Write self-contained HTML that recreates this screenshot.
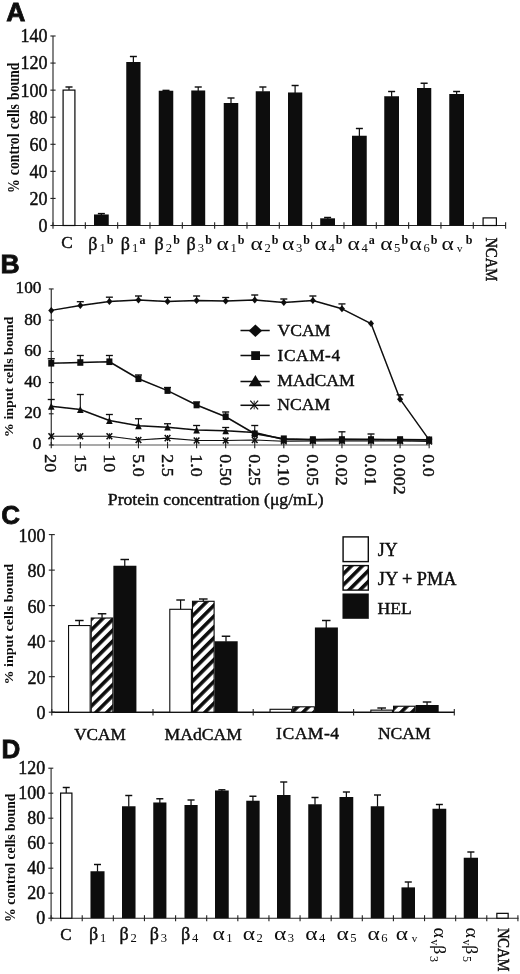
<!DOCTYPE html>
<html lang="en"><head><meta charset="utf-8"><title>Figure</title>
<style>html,body{margin:0;padding:0;background:#fff;}body{width:520px;height:974px;overflow:hidden;font-family:"Liberation Serif",serif;}svg{display:block;}</style>
</head><body>
<svg width="520" height="974" viewBox="0 0 520 974">
<rect x="0" y="0" width="520" height="974" fill="#ffffff"/>
<filter id="soft" x="0" y="0" width="520" height="974" filterUnits="userSpaceOnUse"><feGaussianBlur stdDeviation="0.35"/></filter>
<g filter="url(#soft)">
<text x="6.20" y="21.00" font-size="26.5" text-anchor="start" font-weight="bold" font-family="Liberation Sans, sans-serif" fill="#0a0a0a" stroke="#0a0a0a" stroke-width="0.8" >A</text>
<text x="0.40" y="273.00" font-size="26.5" text-anchor="start" font-weight="bold" font-family="Liberation Sans, sans-serif" fill="#0a0a0a" stroke="#0a0a0a" stroke-width="0.8" >B</text>
<text x="1.20" y="523.60" font-size="26" text-anchor="start" font-weight="bold" font-family="Liberation Sans, sans-serif" fill="#0a0a0a" stroke="#0a0a0a" stroke-width="0.8" >C</text>
<text x="1.40" y="758.30" font-size="26" text-anchor="start" font-weight="bold" font-family="Liberation Sans, sans-serif" fill="#0a0a0a" stroke="#0a0a0a" stroke-width="0.8" >D</text>
<line x1="53.00" y1="36.00" x2="53.00" y2="225.50" stroke="#222" stroke-width="1.1"/>
<line x1="53.00" y1="225.50" x2="505.62" y2="225.50" stroke="#222" stroke-width="1.1"/>
<line x1="50.40" y1="225.50" x2="55.60" y2="225.50" stroke="#222" stroke-width="1.1"/>
<text x="47.60" y="231.90" font-size="18" text-anchor="end" font-weight="normal" font-family="Liberation Serif, serif" fill="#0a0a0a" stroke="#0a0a0a" stroke-width="0.4" >0</text>
<line x1="50.40" y1="198.43" x2="55.60" y2="198.43" stroke="#222" stroke-width="1.1"/>
<text x="47.60" y="204.83" font-size="18" text-anchor="end" font-weight="normal" font-family="Liberation Serif, serif" fill="#0a0a0a" stroke="#0a0a0a" stroke-width="0.4" >20</text>
<line x1="50.40" y1="171.36" x2="55.60" y2="171.36" stroke="#222" stroke-width="1.1"/>
<text x="47.60" y="177.76" font-size="18" text-anchor="end" font-weight="normal" font-family="Liberation Serif, serif" fill="#0a0a0a" stroke="#0a0a0a" stroke-width="0.4" >40</text>
<line x1="50.40" y1="144.29" x2="55.60" y2="144.29" stroke="#222" stroke-width="1.1"/>
<text x="47.60" y="150.69" font-size="18" text-anchor="end" font-weight="normal" font-family="Liberation Serif, serif" fill="#0a0a0a" stroke="#0a0a0a" stroke-width="0.4" >60</text>
<line x1="50.40" y1="117.21" x2="55.60" y2="117.21" stroke="#222" stroke-width="1.1"/>
<text x="47.60" y="123.61" font-size="18" text-anchor="end" font-weight="normal" font-family="Liberation Serif, serif" fill="#0a0a0a" stroke="#0a0a0a" stroke-width="0.4" >80</text>
<line x1="50.40" y1="90.14" x2="55.60" y2="90.14" stroke="#222" stroke-width="1.1"/>
<text x="47.60" y="96.54" font-size="18" text-anchor="end" font-weight="normal" font-family="Liberation Serif, serif" fill="#0a0a0a" stroke="#0a0a0a" stroke-width="0.4" >100</text>
<line x1="50.40" y1="63.07" x2="55.60" y2="63.07" stroke="#222" stroke-width="1.1"/>
<text x="47.60" y="69.47" font-size="18" text-anchor="end" font-weight="normal" font-family="Liberation Serif, serif" fill="#0a0a0a" stroke="#0a0a0a" stroke-width="0.4" >120</text>
<line x1="50.40" y1="36.00" x2="55.60" y2="36.00" stroke="#222" stroke-width="1.1"/>
<text x="47.60" y="42.40" font-size="18" text-anchor="end" font-weight="normal" font-family="Liberation Serif, serif" fill="#0a0a0a" stroke="#0a0a0a" stroke-width="0.4" >140</text>
<line x1="53.00" y1="222.20" x2="53.00" y2="228.80" stroke="#222" stroke-width="1.1"/>
<line x1="85.33" y1="222.20" x2="85.33" y2="228.80" stroke="#222" stroke-width="1.1"/>
<line x1="117.66" y1="222.20" x2="117.66" y2="228.80" stroke="#222" stroke-width="1.1"/>
<line x1="149.99" y1="222.20" x2="149.99" y2="228.80" stroke="#222" stroke-width="1.1"/>
<line x1="182.32" y1="222.20" x2="182.32" y2="228.80" stroke="#222" stroke-width="1.1"/>
<line x1="214.65" y1="222.20" x2="214.65" y2="228.80" stroke="#222" stroke-width="1.1"/>
<line x1="246.98" y1="222.20" x2="246.98" y2="228.80" stroke="#222" stroke-width="1.1"/>
<line x1="279.31" y1="222.20" x2="279.31" y2="228.80" stroke="#222" stroke-width="1.1"/>
<line x1="311.64" y1="222.20" x2="311.64" y2="228.80" stroke="#222" stroke-width="1.1"/>
<line x1="343.97" y1="222.20" x2="343.97" y2="228.80" stroke="#222" stroke-width="1.1"/>
<line x1="376.30" y1="222.20" x2="376.30" y2="228.80" stroke="#222" stroke-width="1.1"/>
<line x1="408.63" y1="222.20" x2="408.63" y2="228.80" stroke="#222" stroke-width="1.1"/>
<line x1="440.96" y1="222.20" x2="440.96" y2="228.80" stroke="#222" stroke-width="1.1"/>
<line x1="473.29" y1="222.20" x2="473.29" y2="228.80" stroke="#222" stroke-width="1.1"/>
<line x1="505.62" y1="222.20" x2="505.62" y2="228.80" stroke="#222" stroke-width="1.1"/>
<text transform="translate(19.20,127.80) rotate(-90) scale(1,1.18)" font-size="13.75" text-anchor="middle" font-weight="bold" font-family="Liberation Serif, serif" fill="#0a0a0a" word-spacing="0.75">% control cells bound</text>
<rect x="63.10" y="90.10" width="11.80" height="135.40" fill="#fff" stroke="#0a0a0a" stroke-width="1.2"/>
<line x1="69.00" y1="87.00" x2="69.00" y2="90.00" stroke="#0a0a0a" stroke-width="1.2"/>
<line x1="65.50" y1="87.00" x2="72.50" y2="87.00" stroke="#0a0a0a" stroke-width="1.44"/>
<rect x="94.00" y="214.50" width="14.75" height="11.00" fill="#0a0a0a"/>
<line x1="101.38" y1="213.60" x2="101.38" y2="215.00" stroke="#0a0a0a" stroke-width="1.2"/>
<line x1="97.88" y1="213.60" x2="104.88" y2="213.60" stroke="#0a0a0a" stroke-width="1.44"/>
<rect x="126.25" y="62.00" width="14.25" height="163.50" fill="#0a0a0a"/>
<line x1="133.38" y1="56.50" x2="133.38" y2="62.50" stroke="#0a0a0a" stroke-width="1.2"/>
<line x1="129.88" y1="56.50" x2="136.88" y2="56.50" stroke="#0a0a0a" stroke-width="1.44"/>
<rect x="158.75" y="90.75" width="14.50" height="134.75" fill="#0a0a0a"/>
<line x1="166.00" y1="90.40" x2="166.00" y2="91.25" stroke="#0a0a0a" stroke-width="1.2"/>
<line x1="162.50" y1="90.40" x2="169.50" y2="90.40" stroke="#0a0a0a" stroke-width="1.44"/>
<rect x="191.25" y="90.50" width="13.95" height="135.00" fill="#0a0a0a"/>
<line x1="198.22" y1="87.00" x2="198.22" y2="91.00" stroke="#0a0a0a" stroke-width="1.2"/>
<line x1="194.72" y1="87.00" x2="201.72" y2="87.00" stroke="#0a0a0a" stroke-width="1.44"/>
<rect x="223.75" y="103.00" width="14.50" height="122.50" fill="#0a0a0a"/>
<line x1="231.00" y1="98.00" x2="231.00" y2="103.50" stroke="#0a0a0a" stroke-width="1.2"/>
<line x1="227.50" y1="98.00" x2="234.50" y2="98.00" stroke="#0a0a0a" stroke-width="1.44"/>
<rect x="255.75" y="91.25" width="14.25" height="134.25" fill="#0a0a0a"/>
<line x1="262.88" y1="87.00" x2="262.88" y2="91.75" stroke="#0a0a0a" stroke-width="1.2"/>
<line x1="259.38" y1="87.00" x2="266.38" y2="87.00" stroke="#0a0a0a" stroke-width="1.44"/>
<rect x="288.00" y="92.50" width="14.25" height="133.00" fill="#0a0a0a"/>
<line x1="295.12" y1="85.50" x2="295.12" y2="93.00" stroke="#0a0a0a" stroke-width="1.2"/>
<line x1="291.62" y1="85.50" x2="298.62" y2="85.50" stroke="#0a0a0a" stroke-width="1.44"/>
<rect x="320.20" y="218.30" width="14.80" height="7.20" fill="#0a0a0a"/>
<line x1="327.60" y1="217.50" x2="327.60" y2="218.80" stroke="#0a0a0a" stroke-width="1.2"/>
<line x1="324.10" y1="217.50" x2="331.10" y2="217.50" stroke="#0a0a0a" stroke-width="1.44"/>
<rect x="352.00" y="135.75" width="14.75" height="89.75" fill="#0a0a0a"/>
<line x1="359.38" y1="128.50" x2="359.38" y2="136.25" stroke="#0a0a0a" stroke-width="1.2"/>
<line x1="355.88" y1="128.50" x2="362.88" y2="128.50" stroke="#0a0a0a" stroke-width="1.44"/>
<rect x="384.25" y="96.25" width="14.75" height="129.25" fill="#0a0a0a"/>
<line x1="391.62" y1="91.50" x2="391.62" y2="96.75" stroke="#0a0a0a" stroke-width="1.2"/>
<line x1="388.12" y1="91.50" x2="395.12" y2="91.50" stroke="#0a0a0a" stroke-width="1.44"/>
<rect x="417.00" y="88.00" width="14.25" height="137.50" fill="#0a0a0a"/>
<line x1="424.12" y1="83.25" x2="424.12" y2="88.50" stroke="#0a0a0a" stroke-width="1.2"/>
<line x1="420.62" y1="83.25" x2="427.62" y2="83.25" stroke="#0a0a0a" stroke-width="1.44"/>
<rect x="449.25" y="94.00" width="14.75" height="131.50" fill="#0a0a0a"/>
<line x1="456.62" y1="91.50" x2="456.62" y2="94.50" stroke="#0a0a0a" stroke-width="1.2"/>
<line x1="453.12" y1="91.50" x2="460.12" y2="91.50" stroke="#0a0a0a" stroke-width="1.44"/>
<rect x="483.10" y="217.90" width="13.30" height="7.60" fill="#fff" stroke="#0a0a0a" stroke-width="1.2"/>
<text x="61.20" y="248.10" font-size="17.2" text-anchor="start" font-weight="normal" font-family="Liberation Serif, serif" fill="#0a0a0a" stroke="#0a0a0a" stroke-width="0.4" >C</text>
<text x="88.20" y="249.60" font-size="18" text-anchor="start" font-weight="normal" font-family="Liberation Serif, serif" fill="#0a0a0a" stroke="#0a0a0a" stroke-width="0.4" >β</text>
<text x="99.40" y="252.00" font-size="12.6" text-anchor="start" font-weight="normal" font-family="Liberation Serif, serif" fill="#0a0a0a" >1</text>
<text x="106.80" y="244.00" font-size="12" text-anchor="start" font-weight="bold" font-family="Liberation Serif, serif" fill="#0a0a0a" >b</text>
<text x="120.80" y="249.60" font-size="18" text-anchor="start" font-weight="normal" font-family="Liberation Serif, serif" fill="#0a0a0a" stroke="#0a0a0a" stroke-width="0.4" >β</text>
<text x="132.00" y="252.00" font-size="12.6" text-anchor="start" font-weight="normal" font-family="Liberation Serif, serif" fill="#0a0a0a" >1</text>
<text x="139.40" y="244.00" font-size="12" text-anchor="start" font-weight="bold" font-family="Liberation Serif, serif" fill="#0a0a0a" >a</text>
<text x="154.60" y="249.60" font-size="18" text-anchor="start" font-weight="normal" font-family="Liberation Serif, serif" fill="#0a0a0a" stroke="#0a0a0a" stroke-width="0.4" >β</text>
<text x="165.80" y="252.00" font-size="12.6" text-anchor="start" font-weight="normal" font-family="Liberation Serif, serif" fill="#0a0a0a" >2</text>
<text x="173.20" y="244.00" font-size="12" text-anchor="start" font-weight="bold" font-family="Liberation Serif, serif" fill="#0a0a0a" >b</text>
<text x="186.60" y="249.60" font-size="18" text-anchor="start" font-weight="normal" font-family="Liberation Serif, serif" fill="#0a0a0a" stroke="#0a0a0a" stroke-width="0.4" >β</text>
<text x="197.80" y="252.00" font-size="12.6" text-anchor="start" font-weight="normal" font-family="Liberation Serif, serif" fill="#0a0a0a" >3</text>
<text x="205.20" y="244.00" font-size="12" text-anchor="start" font-weight="bold" font-family="Liberation Serif, serif" fill="#0a0a0a" >b</text>
<text x="216.50" y="249.80" font-size="19.5" text-anchor="start" font-weight="normal" font-family="Liberation Serif, serif" fill="#0a0a0a" textLength="12.3" lengthAdjust="spacingAndGlyphs">α</text>
<text x="230.40" y="252.00" font-size="12.6" text-anchor="start" font-weight="normal" font-family="Liberation Serif, serif" fill="#0a0a0a" >1</text>
<text x="237.80" y="244.00" font-size="12" text-anchor="start" font-weight="bold" font-family="Liberation Serif, serif" fill="#0a0a0a" >b</text>
<text x="250.50" y="249.80" font-size="19.5" text-anchor="start" font-weight="normal" font-family="Liberation Serif, serif" fill="#0a0a0a" textLength="12.3" lengthAdjust="spacingAndGlyphs">α</text>
<text x="264.40" y="252.00" font-size="12.6" text-anchor="start" font-weight="normal" font-family="Liberation Serif, serif" fill="#0a0a0a" >2</text>
<text x="271.80" y="244.00" font-size="12" text-anchor="start" font-weight="bold" font-family="Liberation Serif, serif" fill="#0a0a0a" >b</text>
<text x="282.00" y="249.80" font-size="19.5" text-anchor="start" font-weight="normal" font-family="Liberation Serif, serif" fill="#0a0a0a" textLength="12.3" lengthAdjust="spacingAndGlyphs">α</text>
<text x="295.90" y="252.00" font-size="12.6" text-anchor="start" font-weight="normal" font-family="Liberation Serif, serif" fill="#0a0a0a" >3</text>
<text x="303.30" y="244.00" font-size="12" text-anchor="start" font-weight="bold" font-family="Liberation Serif, serif" fill="#0a0a0a" >b</text>
<text x="314.50" y="249.80" font-size="19.5" text-anchor="start" font-weight="normal" font-family="Liberation Serif, serif" fill="#0a0a0a" textLength="12.3" lengthAdjust="spacingAndGlyphs">α</text>
<text x="328.40" y="252.00" font-size="12.6" text-anchor="start" font-weight="normal" font-family="Liberation Serif, serif" fill="#0a0a0a" >4</text>
<text x="335.80" y="244.00" font-size="12" text-anchor="start" font-weight="bold" font-family="Liberation Serif, serif" fill="#0a0a0a" >b</text>
<text x="347.50" y="249.80" font-size="19.5" text-anchor="start" font-weight="normal" font-family="Liberation Serif, serif" fill="#0a0a0a" textLength="12.3" lengthAdjust="spacingAndGlyphs">α</text>
<text x="361.40" y="252.00" font-size="12.6" text-anchor="start" font-weight="normal" font-family="Liberation Serif, serif" fill="#0a0a0a" >4</text>
<text x="368.80" y="244.00" font-size="12" text-anchor="start" font-weight="bold" font-family="Liberation Serif, serif" fill="#0a0a0a" >a</text>
<text x="380.20" y="249.80" font-size="19.5" text-anchor="start" font-weight="normal" font-family="Liberation Serif, serif" fill="#0a0a0a" textLength="12.3" lengthAdjust="spacingAndGlyphs">α</text>
<text x="394.10" y="252.00" font-size="12.6" text-anchor="start" font-weight="normal" font-family="Liberation Serif, serif" fill="#0a0a0a" >5</text>
<text x="401.50" y="244.00" font-size="12" text-anchor="start" font-weight="bold" font-family="Liberation Serif, serif" fill="#0a0a0a" >b</text>
<text x="409.50" y="249.80" font-size="19.5" text-anchor="start" font-weight="normal" font-family="Liberation Serif, serif" fill="#0a0a0a" textLength="12.3" lengthAdjust="spacingAndGlyphs">α</text>
<text x="423.40" y="252.00" font-size="12.6" text-anchor="start" font-weight="normal" font-family="Liberation Serif, serif" fill="#0a0a0a" >6</text>
<text x="430.80" y="244.00" font-size="12" text-anchor="start" font-weight="bold" font-family="Liberation Serif, serif" fill="#0a0a0a" >b</text>
<text x="441.50" y="249.80" font-size="19.5" text-anchor="start" font-weight="normal" font-family="Liberation Serif, serif" fill="#0a0a0a" textLength="12.3" lengthAdjust="spacingAndGlyphs">α</text>
<text x="457.00" y="252.00" font-size="11" text-anchor="start" font-weight="normal" font-family="Liberation Serif, serif" fill="#0a0a0a" >v</text>
<text x="465.80" y="244.00" font-size="12" text-anchor="start" font-weight="bold" font-family="Liberation Serif, serif" fill="#0a0a0a" >b</text>
<text transform="translate(486.20,237.60) rotate(90) scale(1,1.08)" font-size="14.5" text-anchor="start" font-weight="normal" font-family="Liberation Serif, serif" fill="#0a0a0a" stroke="#0a0a0a" stroke-width="0.45" >NCAM</text>
<line x1="51.25" y1="288.95" x2="51.25" y2="445.00" stroke="#222" stroke-width="1.1"/>
<line x1="51.25" y1="445.00" x2="429.16" y2="445.00" stroke="#555" stroke-width="1.0"/>
<line x1="48.85" y1="445.00" x2="53.65" y2="445.00" stroke="#222" stroke-width="1.1"/>
<text x="41.50" y="449.40" font-size="17.3" text-anchor="end" font-weight="normal" font-family="Liberation Serif, serif" fill="#0a0a0a" stroke="#0a0a0a" stroke-width="0.4" >0</text>
<line x1="48.85" y1="413.79" x2="53.65" y2="413.79" stroke="#222" stroke-width="1.1"/>
<text x="41.50" y="418.19" font-size="17.3" text-anchor="end" font-weight="normal" font-family="Liberation Serif, serif" fill="#0a0a0a" stroke="#0a0a0a" stroke-width="0.4" >20</text>
<line x1="48.85" y1="382.58" x2="53.65" y2="382.58" stroke="#222" stroke-width="1.1"/>
<text x="41.50" y="386.98" font-size="17.3" text-anchor="end" font-weight="normal" font-family="Liberation Serif, serif" fill="#0a0a0a" stroke="#0a0a0a" stroke-width="0.4" >40</text>
<line x1="48.85" y1="351.37" x2="53.65" y2="351.37" stroke="#222" stroke-width="1.1"/>
<text x="41.50" y="355.77" font-size="17.3" text-anchor="end" font-weight="normal" font-family="Liberation Serif, serif" fill="#0a0a0a" stroke="#0a0a0a" stroke-width="0.4" >60</text>
<line x1="48.85" y1="320.16" x2="53.65" y2="320.16" stroke="#222" stroke-width="1.1"/>
<text x="41.50" y="324.56" font-size="17.3" text-anchor="end" font-weight="normal" font-family="Liberation Serif, serif" fill="#0a0a0a" stroke="#0a0a0a" stroke-width="0.4" >80</text>
<line x1="48.85" y1="288.95" x2="53.65" y2="288.95" stroke="#222" stroke-width="1.1"/>
<text x="41.50" y="293.35" font-size="17.3" text-anchor="end" font-weight="normal" font-family="Liberation Serif, serif" fill="#0a0a0a" stroke="#0a0a0a" stroke-width="0.4" >100</text>
<line x1="51.25" y1="442.00" x2="51.25" y2="448.30" stroke="#222" stroke-width="1.1"/>
<line x1="80.32" y1="442.00" x2="80.32" y2="448.30" stroke="#222" stroke-width="1.1"/>
<line x1="109.39" y1="442.00" x2="109.39" y2="448.30" stroke="#222" stroke-width="1.1"/>
<line x1="138.46" y1="442.00" x2="138.46" y2="448.30" stroke="#222" stroke-width="1.1"/>
<line x1="167.53" y1="442.00" x2="167.53" y2="448.30" stroke="#222" stroke-width="1.1"/>
<line x1="196.60" y1="442.00" x2="196.60" y2="448.30" stroke="#222" stroke-width="1.1"/>
<line x1="225.67" y1="442.00" x2="225.67" y2="448.30" stroke="#222" stroke-width="1.1"/>
<line x1="254.74" y1="442.00" x2="254.74" y2="448.30" stroke="#222" stroke-width="1.1"/>
<line x1="283.81" y1="442.00" x2="283.81" y2="448.30" stroke="#222" stroke-width="1.1"/>
<line x1="312.88" y1="442.00" x2="312.88" y2="448.30" stroke="#222" stroke-width="1.1"/>
<line x1="341.95" y1="442.00" x2="341.95" y2="448.30" stroke="#222" stroke-width="1.1"/>
<line x1="371.02" y1="442.00" x2="371.02" y2="448.30" stroke="#222" stroke-width="1.1"/>
<line x1="400.09" y1="442.00" x2="400.09" y2="448.30" stroke="#222" stroke-width="1.1"/>
<line x1="429.16" y1="442.00" x2="429.16" y2="448.30" stroke="#222" stroke-width="1.1"/>
<text transform="translate(13.00,376.90) rotate(-90) scale(1,0.93)" font-size="14.05" text-anchor="middle" font-weight="bold" font-family="Liberation Serif, serif" fill="#0a0a0a" >% input cells bound</text>
<text transform="translate(45.45,454.30) rotate(90) scale(1.045,1)" font-size="17.2" text-anchor="start" font-weight="normal" font-family="Liberation Serif, serif" fill="#0a0a0a" stroke="#0a0a0a" stroke-width="0.4" >20</text>
<text transform="translate(74.52,454.30) rotate(90) scale(1.045,1)" font-size="17.2" text-anchor="start" font-weight="normal" font-family="Liberation Serif, serif" fill="#0a0a0a" stroke="#0a0a0a" stroke-width="0.4" >15</text>
<text transform="translate(103.59,454.30) rotate(90) scale(1.045,1)" font-size="17.2" text-anchor="start" font-weight="normal" font-family="Liberation Serif, serif" fill="#0a0a0a" stroke="#0a0a0a" stroke-width="0.4" >10</text>
<text transform="translate(132.66,454.30) rotate(90) scale(1.045,1)" font-size="17.2" text-anchor="start" font-weight="normal" font-family="Liberation Serif, serif" fill="#0a0a0a" stroke="#0a0a0a" stroke-width="0.4" >5.0</text>
<text transform="translate(161.73,454.30) rotate(90) scale(1.045,1)" font-size="17.2" text-anchor="start" font-weight="normal" font-family="Liberation Serif, serif" fill="#0a0a0a" stroke="#0a0a0a" stroke-width="0.4" >2.5</text>
<text transform="translate(190.80,454.30) rotate(90) scale(1.045,1)" font-size="17.2" text-anchor="start" font-weight="normal" font-family="Liberation Serif, serif" fill="#0a0a0a" stroke="#0a0a0a" stroke-width="0.4" >1.0</text>
<text transform="translate(219.87,454.30) rotate(90) scale(1.045,1)" font-size="17.2" text-anchor="start" font-weight="normal" font-family="Liberation Serif, serif" fill="#0a0a0a" stroke="#0a0a0a" stroke-width="0.4" >0.50</text>
<text transform="translate(248.94,454.30) rotate(90) scale(1.045,1)" font-size="17.2" text-anchor="start" font-weight="normal" font-family="Liberation Serif, serif" fill="#0a0a0a" stroke="#0a0a0a" stroke-width="0.4" >0.25</text>
<text transform="translate(278.01,454.30) rotate(90) scale(1.045,1)" font-size="17.2" text-anchor="start" font-weight="normal" font-family="Liberation Serif, serif" fill="#0a0a0a" stroke="#0a0a0a" stroke-width="0.4" >0.10</text>
<text transform="translate(307.08,454.30) rotate(90) scale(1.045,1)" font-size="17.2" text-anchor="start" font-weight="normal" font-family="Liberation Serif, serif" fill="#0a0a0a" stroke="#0a0a0a" stroke-width="0.4" >0.05</text>
<text transform="translate(336.15,454.30) rotate(90) scale(1.045,1)" font-size="17.2" text-anchor="start" font-weight="normal" font-family="Liberation Serif, serif" fill="#0a0a0a" stroke="#0a0a0a" stroke-width="0.4" >0.02</text>
<text transform="translate(365.22,454.30) rotate(90) scale(1.045,1)" font-size="17.2" text-anchor="start" font-weight="normal" font-family="Liberation Serif, serif" fill="#0a0a0a" stroke="#0a0a0a" stroke-width="0.4" >0.01</text>
<text transform="translate(394.29,454.30) rotate(90) scale(1.045,1)" font-size="17.2" text-anchor="start" font-weight="normal" font-family="Liberation Serif, serif" fill="#0a0a0a" stroke="#0a0a0a" stroke-width="0.4" >0.002</text>
<text transform="translate(423.36,454.30) rotate(90) scale(1.045,1)" font-size="17.2" text-anchor="start" font-weight="normal" font-family="Liberation Serif, serif" fill="#0a0a0a" stroke="#0a0a0a" stroke-width="0.4" >0.0</text>
<text x="215.70" y="505.00" font-size="17.7" text-anchor="middle" font-weight="normal" font-family="Liberation Serif, serif" fill="#0a0a0a" stroke="#0a0a0a" stroke-width="0.4" >Protein concentration (μg/mL)</text>
<line x1="80.32" y1="301.70" x2="80.32" y2="305.50" stroke="#0a0a0a" stroke-width="1.1"/>
<line x1="76.82" y1="301.70" x2="83.82" y2="301.70" stroke="#0a0a0a" stroke-width="1.32"/>
<line x1="109.39" y1="297.20" x2="109.39" y2="301.50" stroke="#0a0a0a" stroke-width="1.1"/>
<line x1="105.89" y1="297.20" x2="112.89" y2="297.20" stroke="#0a0a0a" stroke-width="1.32"/>
<line x1="138.46" y1="296.00" x2="138.46" y2="300.00" stroke="#0a0a0a" stroke-width="1.1"/>
<line x1="134.96" y1="296.00" x2="141.96" y2="296.00" stroke="#0a0a0a" stroke-width="1.32"/>
<line x1="167.53" y1="297.40" x2="167.53" y2="301.50" stroke="#0a0a0a" stroke-width="1.1"/>
<line x1="164.03" y1="297.40" x2="171.03" y2="297.40" stroke="#0a0a0a" stroke-width="1.32"/>
<line x1="196.60" y1="296.00" x2="196.60" y2="300.50" stroke="#0a0a0a" stroke-width="1.1"/>
<line x1="193.10" y1="296.00" x2="200.10" y2="296.00" stroke="#0a0a0a" stroke-width="1.32"/>
<line x1="225.67" y1="297.50" x2="225.67" y2="301.00" stroke="#0a0a0a" stroke-width="1.1"/>
<line x1="222.17" y1="297.50" x2="229.17" y2="297.50" stroke="#0a0a0a" stroke-width="1.32"/>
<line x1="254.74" y1="295.00" x2="254.74" y2="300.00" stroke="#0a0a0a" stroke-width="1.1"/>
<line x1="251.24" y1="295.00" x2="258.24" y2="295.00" stroke="#0a0a0a" stroke-width="1.32"/>
<line x1="283.81" y1="299.00" x2="283.81" y2="302.50" stroke="#0a0a0a" stroke-width="1.1"/>
<line x1="280.31" y1="299.00" x2="287.31" y2="299.00" stroke="#0a0a0a" stroke-width="1.32"/>
<line x1="312.88" y1="296.00" x2="312.88" y2="300.50" stroke="#0a0a0a" stroke-width="1.1"/>
<line x1="309.38" y1="296.00" x2="316.38" y2="296.00" stroke="#0a0a0a" stroke-width="1.32"/>
<line x1="341.95" y1="303.90" x2="341.95" y2="308.80" stroke="#0a0a0a" stroke-width="1.1"/>
<line x1="338.45" y1="303.90" x2="345.45" y2="303.90" stroke="#0a0a0a" stroke-width="1.32"/>
<line x1="400.09" y1="394.80" x2="400.09" y2="399.20" stroke="#0a0a0a" stroke-width="1.1"/>
<line x1="396.59" y1="394.80" x2="403.59" y2="394.80" stroke="#0a0a0a" stroke-width="1.32"/>
<line x1="51.25" y1="358.75" x2="51.25" y2="363.25" stroke="#0a0a0a" stroke-width="1.1"/>
<line x1="47.75" y1="358.75" x2="54.75" y2="358.75" stroke="#0a0a0a" stroke-width="1.32"/>
<line x1="80.32" y1="355.50" x2="80.32" y2="362.50" stroke="#0a0a0a" stroke-width="1.1"/>
<line x1="76.82" y1="355.50" x2="83.82" y2="355.50" stroke="#0a0a0a" stroke-width="1.32"/>
<line x1="109.39" y1="355.50" x2="109.39" y2="361.75" stroke="#0a0a0a" stroke-width="1.1"/>
<line x1="105.89" y1="355.50" x2="112.89" y2="355.50" stroke="#0a0a0a" stroke-width="1.32"/>
<line x1="138.46" y1="375.00" x2="138.46" y2="378.75" stroke="#0a0a0a" stroke-width="1.1"/>
<line x1="134.96" y1="375.00" x2="141.96" y2="375.00" stroke="#0a0a0a" stroke-width="1.32"/>
<line x1="167.53" y1="387.50" x2="167.53" y2="390.60" stroke="#0a0a0a" stroke-width="1.1"/>
<line x1="164.03" y1="387.50" x2="171.03" y2="387.50" stroke="#0a0a0a" stroke-width="1.32"/>
<line x1="196.60" y1="402.00" x2="196.60" y2="405.00" stroke="#0a0a0a" stroke-width="1.1"/>
<line x1="193.10" y1="402.00" x2="200.10" y2="402.00" stroke="#0a0a0a" stroke-width="1.32"/>
<line x1="225.67" y1="412.00" x2="225.67" y2="416.75" stroke="#0a0a0a" stroke-width="1.1"/>
<line x1="222.17" y1="412.00" x2="229.17" y2="412.00" stroke="#0a0a0a" stroke-width="1.32"/>
<line x1="51.25" y1="399.50" x2="51.25" y2="406.25" stroke="#0a0a0a" stroke-width="1.1"/>
<line x1="47.75" y1="399.50" x2="54.75" y2="399.50" stroke="#0a0a0a" stroke-width="1.32"/>
<line x1="80.32" y1="394.50" x2="80.32" y2="409.50" stroke="#0a0a0a" stroke-width="1.1"/>
<line x1="76.82" y1="394.50" x2="83.82" y2="394.50" stroke="#0a0a0a" stroke-width="1.32"/>
<line x1="109.39" y1="414.50" x2="109.39" y2="420.50" stroke="#0a0a0a" stroke-width="1.1"/>
<line x1="105.89" y1="414.50" x2="112.89" y2="414.50" stroke="#0a0a0a" stroke-width="1.32"/>
<line x1="138.46" y1="418.75" x2="138.46" y2="425.75" stroke="#0a0a0a" stroke-width="1.1"/>
<line x1="134.96" y1="418.75" x2="141.96" y2="418.75" stroke="#0a0a0a" stroke-width="1.32"/>
<line x1="167.53" y1="423.75" x2="167.53" y2="427.20" stroke="#0a0a0a" stroke-width="1.1"/>
<line x1="164.03" y1="423.75" x2="171.03" y2="423.75" stroke="#0a0a0a" stroke-width="1.32"/>
<line x1="196.60" y1="425.50" x2="196.60" y2="430.00" stroke="#0a0a0a" stroke-width="1.1"/>
<line x1="193.10" y1="425.50" x2="200.10" y2="425.50" stroke="#0a0a0a" stroke-width="1.32"/>
<line x1="225.67" y1="427.50" x2="225.67" y2="430.75" stroke="#0a0a0a" stroke-width="1.1"/>
<line x1="222.17" y1="427.50" x2="229.17" y2="427.50" stroke="#0a0a0a" stroke-width="1.32"/>
<line x1="254.74" y1="425.50" x2="254.74" y2="432.50" stroke="#0a0a0a" stroke-width="1.1"/>
<line x1="251.24" y1="425.50" x2="258.24" y2="425.50" stroke="#0a0a0a" stroke-width="1.32"/>
<line x1="341.95" y1="431.80" x2="341.95" y2="439.20" stroke="#0a0a0a" stroke-width="1.1"/>
<line x1="338.45" y1="431.80" x2="345.45" y2="431.80" stroke="#0a0a0a" stroke-width="1.32"/>
<line x1="371.02" y1="434.00" x2="371.02" y2="439.50" stroke="#0a0a0a" stroke-width="1.1"/>
<line x1="367.52" y1="434.00" x2="374.52" y2="434.00" stroke="#0a0a0a" stroke-width="1.32"/>
<polyline points="51.25,436.25 80.32,436.25 109.39,436.25 138.46,440.00 167.53,438.10 196.60,440.50 225.67,440.50 254.74,440.00 283.81,441.25 312.88,441.00 341.95,441.00 371.02,441.00 400.09,441.00 429.16,441.50" fill="none" stroke="#0a0a0a" stroke-width="1.2" stroke-linejoin="round"/>
<polyline points="51.25,406.25 80.32,409.50 109.39,420.50 138.46,425.75 167.53,427.20 196.60,430.00 225.67,430.75 254.74,432.50 283.81,439.50 312.88,439.80 341.95,439.20 371.02,439.50 400.09,440.00 429.16,440.00" fill="none" stroke="#0a0a0a" stroke-width="1.4" stroke-linejoin="round"/>
<polyline points="51.25,363.25 80.32,362.50 109.39,361.75 138.46,378.75 167.53,390.60 196.60,405.00 225.67,416.75 254.74,433.75 283.81,438.75 312.88,439.50 341.95,439.50 371.02,439.50 400.09,439.50 429.16,439.80" fill="none" stroke="#0a0a0a" stroke-width="1.45" stroke-linejoin="round"/>
<polyline points="51.25,310.40 80.32,305.50 109.39,301.50 138.46,300.00 167.53,301.50 196.60,300.50 225.67,301.00 254.74,300.00 283.81,302.50 312.88,300.50 341.95,308.80 371.02,323.60 400.09,399.20 429.16,439.80" fill="none" stroke="#0a0a0a" stroke-width="1.45" stroke-linejoin="round"/>
<line x1="48.45" y1="433.17" x2="54.05" y2="439.33" stroke="#0a0a0a" stroke-width="1.5"/>
<line x1="48.45" y1="439.33" x2="54.05" y2="433.17" stroke="#0a0a0a" stroke-width="1.5"/>
<line x1="51.25" y1="433.17" x2="51.25" y2="439.33" stroke="#0a0a0a" stroke-width="1.0499999999999998"/>
<line x1="77.52" y1="433.17" x2="83.12" y2="439.33" stroke="#0a0a0a" stroke-width="1.5"/>
<line x1="77.52" y1="439.33" x2="83.12" y2="433.17" stroke="#0a0a0a" stroke-width="1.5"/>
<line x1="80.32" y1="433.17" x2="80.32" y2="439.33" stroke="#0a0a0a" stroke-width="1.0499999999999998"/>
<line x1="106.59" y1="433.17" x2="112.19" y2="439.33" stroke="#0a0a0a" stroke-width="1.5"/>
<line x1="106.59" y1="439.33" x2="112.19" y2="433.17" stroke="#0a0a0a" stroke-width="1.5"/>
<line x1="109.39" y1="433.17" x2="109.39" y2="439.33" stroke="#0a0a0a" stroke-width="1.0499999999999998"/>
<line x1="135.66" y1="436.92" x2="141.26" y2="443.08" stroke="#0a0a0a" stroke-width="1.5"/>
<line x1="135.66" y1="443.08" x2="141.26" y2="436.92" stroke="#0a0a0a" stroke-width="1.5"/>
<line x1="138.46" y1="436.92" x2="138.46" y2="443.08" stroke="#0a0a0a" stroke-width="1.0499999999999998"/>
<line x1="164.73" y1="435.02" x2="170.33" y2="441.18" stroke="#0a0a0a" stroke-width="1.5"/>
<line x1="164.73" y1="441.18" x2="170.33" y2="435.02" stroke="#0a0a0a" stroke-width="1.5"/>
<line x1="167.53" y1="435.02" x2="167.53" y2="441.18" stroke="#0a0a0a" stroke-width="1.0499999999999998"/>
<line x1="193.80" y1="437.42" x2="199.40" y2="443.58" stroke="#0a0a0a" stroke-width="1.5"/>
<line x1="193.80" y1="443.58" x2="199.40" y2="437.42" stroke="#0a0a0a" stroke-width="1.5"/>
<line x1="196.60" y1="437.42" x2="196.60" y2="443.58" stroke="#0a0a0a" stroke-width="1.0499999999999998"/>
<line x1="222.87" y1="437.42" x2="228.47" y2="443.58" stroke="#0a0a0a" stroke-width="1.5"/>
<line x1="222.87" y1="443.58" x2="228.47" y2="437.42" stroke="#0a0a0a" stroke-width="1.5"/>
<line x1="225.67" y1="437.42" x2="225.67" y2="443.58" stroke="#0a0a0a" stroke-width="1.0499999999999998"/>
<line x1="251.94" y1="436.92" x2="257.54" y2="443.08" stroke="#0a0a0a" stroke-width="1.5"/>
<line x1="251.94" y1="443.08" x2="257.54" y2="436.92" stroke="#0a0a0a" stroke-width="1.5"/>
<line x1="254.74" y1="436.92" x2="254.74" y2="443.08" stroke="#0a0a0a" stroke-width="1.0499999999999998"/>
<line x1="281.01" y1="438.17" x2="286.61" y2="444.33" stroke="#0a0a0a" stroke-width="1.5"/>
<line x1="281.01" y1="444.33" x2="286.61" y2="438.17" stroke="#0a0a0a" stroke-width="1.5"/>
<line x1="283.81" y1="438.17" x2="283.81" y2="444.33" stroke="#0a0a0a" stroke-width="1.0499999999999998"/>
<line x1="310.08" y1="437.92" x2="315.68" y2="444.08" stroke="#0a0a0a" stroke-width="1.5"/>
<line x1="310.08" y1="444.08" x2="315.68" y2="437.92" stroke="#0a0a0a" stroke-width="1.5"/>
<line x1="312.88" y1="437.92" x2="312.88" y2="444.08" stroke="#0a0a0a" stroke-width="1.0499999999999998"/>
<line x1="339.15" y1="437.92" x2="344.75" y2="444.08" stroke="#0a0a0a" stroke-width="1.5"/>
<line x1="339.15" y1="444.08" x2="344.75" y2="437.92" stroke="#0a0a0a" stroke-width="1.5"/>
<line x1="341.95" y1="437.92" x2="341.95" y2="444.08" stroke="#0a0a0a" stroke-width="1.0499999999999998"/>
<line x1="368.22" y1="437.92" x2="373.82" y2="444.08" stroke="#0a0a0a" stroke-width="1.5"/>
<line x1="368.22" y1="444.08" x2="373.82" y2="437.92" stroke="#0a0a0a" stroke-width="1.5"/>
<line x1="371.02" y1="437.92" x2="371.02" y2="444.08" stroke="#0a0a0a" stroke-width="1.0499999999999998"/>
<line x1="397.29" y1="437.92" x2="402.89" y2="444.08" stroke="#0a0a0a" stroke-width="1.5"/>
<line x1="397.29" y1="444.08" x2="402.89" y2="437.92" stroke="#0a0a0a" stroke-width="1.5"/>
<line x1="400.09" y1="437.92" x2="400.09" y2="444.08" stroke="#0a0a0a" stroke-width="1.0499999999999998"/>
<line x1="426.36" y1="438.42" x2="431.96" y2="444.58" stroke="#0a0a0a" stroke-width="1.5"/>
<line x1="426.36" y1="444.58" x2="431.96" y2="438.42" stroke="#0a0a0a" stroke-width="1.5"/>
<line x1="429.16" y1="438.42" x2="429.16" y2="444.58" stroke="#0a0a0a" stroke-width="1.0499999999999998"/>
<polygon points="47.95,409.65 51.25,402.85 54.55,409.65" fill="#0a0a0a"/>
<polygon points="77.02,412.90 80.32,406.10 83.62,412.90" fill="#0a0a0a"/>
<polygon points="106.09,423.90 109.39,417.10 112.69,423.90" fill="#0a0a0a"/>
<polygon points="135.16,429.15 138.46,422.35 141.76,429.15" fill="#0a0a0a"/>
<polygon points="164.23,430.60 167.53,423.80 170.83,430.60" fill="#0a0a0a"/>
<polygon points="193.30,433.40 196.60,426.60 199.90,433.40" fill="#0a0a0a"/>
<polygon points="222.37,434.15 225.67,427.35 228.97,434.15" fill="#0a0a0a"/>
<polygon points="251.44,435.90 254.74,429.10 258.04,435.90" fill="#0a0a0a"/>
<polygon points="280.51,442.90 283.81,436.10 287.11,442.90" fill="#0a0a0a"/>
<polygon points="309.58,443.20 312.88,436.40 316.18,443.20" fill="#0a0a0a"/>
<polygon points="338.65,442.60 341.95,435.80 345.25,442.60" fill="#0a0a0a"/>
<polygon points="367.72,442.90 371.02,436.10 374.32,442.90" fill="#0a0a0a"/>
<polygon points="396.79,443.40 400.09,436.60 403.39,443.40" fill="#0a0a0a"/>
<polygon points="425.86,443.40 429.16,436.60 432.46,443.40" fill="#0a0a0a"/>
<rect x="48.25" y="359.95" width="6.00" height="6.60" fill="#0a0a0a"/>
<rect x="77.32" y="359.20" width="6.00" height="6.60" fill="#0a0a0a"/>
<rect x="106.39" y="358.45" width="6.00" height="6.60" fill="#0a0a0a"/>
<rect x="135.46" y="375.45" width="6.00" height="6.60" fill="#0a0a0a"/>
<rect x="164.53" y="387.30" width="6.00" height="6.60" fill="#0a0a0a"/>
<rect x="193.60" y="401.70" width="6.00" height="6.60" fill="#0a0a0a"/>
<rect x="222.67" y="413.45" width="6.00" height="6.60" fill="#0a0a0a"/>
<rect x="251.74" y="430.45" width="6.00" height="6.60" fill="#0a0a0a"/>
<rect x="280.81" y="435.45" width="6.00" height="6.60" fill="#0a0a0a"/>
<rect x="309.88" y="436.20" width="6.00" height="6.60" fill="#0a0a0a"/>
<rect x="338.95" y="436.20" width="6.00" height="6.60" fill="#0a0a0a"/>
<rect x="368.02" y="436.20" width="6.00" height="6.60" fill="#0a0a0a"/>
<rect x="397.09" y="436.20" width="6.00" height="6.60" fill="#0a0a0a"/>
<rect x="426.16" y="436.50" width="6.00" height="6.60" fill="#0a0a0a"/>
<polygon points="48.25,310.40 51.25,306.90 54.25,310.40 51.25,313.90" fill="#0a0a0a"/>
<polygon points="77.32,305.50 80.32,302.00 83.32,305.50 80.32,309.00" fill="#0a0a0a"/>
<polygon points="106.39,301.50 109.39,298.00 112.39,301.50 109.39,305.00" fill="#0a0a0a"/>
<polygon points="135.46,300.00 138.46,296.50 141.46,300.00 138.46,303.50" fill="#0a0a0a"/>
<polygon points="164.53,301.50 167.53,298.00 170.53,301.50 167.53,305.00" fill="#0a0a0a"/>
<polygon points="193.60,300.50 196.60,297.00 199.60,300.50 196.60,304.00" fill="#0a0a0a"/>
<polygon points="222.67,301.00 225.67,297.50 228.67,301.00 225.67,304.50" fill="#0a0a0a"/>
<polygon points="251.74,300.00 254.74,296.50 257.74,300.00 254.74,303.50" fill="#0a0a0a"/>
<polygon points="280.81,302.50 283.81,299.00 286.81,302.50 283.81,306.00" fill="#0a0a0a"/>
<polygon points="309.88,300.50 312.88,297.00 315.88,300.50 312.88,304.00" fill="#0a0a0a"/>
<polygon points="338.95,308.80 341.95,305.30 344.95,308.80 341.95,312.30" fill="#0a0a0a"/>
<polygon points="368.02,323.60 371.02,320.10 374.02,323.60 371.02,327.10" fill="#0a0a0a"/>
<polygon points="397.09,399.20 400.09,395.70 403.09,399.20 400.09,402.70" fill="#0a0a0a"/>
<polygon points="426.16,439.80 429.16,436.30 432.16,439.80 429.16,443.30" fill="#0a0a0a"/>
<line x1="240.50" y1="330.50" x2="269.70" y2="330.50" stroke="#0a0a0a" stroke-width="1.5"/>
<line x1="240.50" y1="355.50" x2="269.70" y2="355.50" stroke="#0a0a0a" stroke-width="1.5"/>
<line x1="240.50" y1="381.50" x2="269.70" y2="381.50" stroke="#0a0a0a" stroke-width="1.5"/>
<line x1="240.50" y1="405.30" x2="269.70" y2="405.30" stroke="#0a0a0a" stroke-width="1.5"/>
<polygon points="248.70,330.70 255.40,324.40 262.10,330.70 255.40,337.00" fill="#0a0a0a"/>
<rect x="251.20" y="351.20" width="8.80" height="8.80" fill="#0a0a0a"/>
<polygon points="248.70,386.30 255.40,374.90 262.10,386.30" fill="#0a0a0a"/>
<line x1="250.30" y1="400.71" x2="258.10" y2="409.29" stroke="#0a0a0a" stroke-width="1.2"/>
<line x1="250.30" y1="409.29" x2="258.10" y2="400.71" stroke="#0a0a0a" stroke-width="1.2"/>
<line x1="254.20" y1="400.71" x2="254.20" y2="409.29" stroke="#0a0a0a" stroke-width="0.84"/>
<text x="277.60" y="336.30" font-size="17.6" text-anchor="start" font-weight="normal" font-family="Liberation Serif, serif" fill="#0a0a0a" stroke="#0a0a0a" stroke-width="0.4" >VCAM</text>
<text x="277.60" y="360.60" font-size="17.3" text-anchor="start" font-weight="normal" font-family="Liberation Serif, serif" fill="#0a0a0a" stroke="#0a0a0a" stroke-width="0.4" textLength="62.5" lengthAdjust="spacing">ICAM-4</text>
<text x="277.30" y="386.30" font-size="17.6" text-anchor="start" font-weight="normal" font-family="Liberation Serif, serif" fill="#0a0a0a" stroke="#0a0a0a" stroke-width="0.4" >MAdCAM</text>
<text x="277.30" y="410.20" font-size="17.6" text-anchor="start" font-weight="normal" font-family="Liberation Serif, serif" fill="#0a0a0a" stroke="#0a0a0a" stroke-width="0.4" >NCAM</text>
<defs><pattern id="hat" width="7.7" height="7.7" patternUnits="userSpaceOnUse" patternTransform="rotate(-45)"><rect x="0" y="0" width="8" height="8" fill="#fff"/><rect x="0" y="0" width="8" height="3.6" fill="#0a0a0a"/></pattern></defs>
<line x1="51.80" y1="534.60" x2="51.80" y2="712.20" stroke="#222" stroke-width="1.1"/>
<line x1="51.80" y1="712.20" x2="454.30" y2="712.20" stroke="#111" stroke-width="1.4"/>
<line x1="48.80" y1="712.20" x2="54.80" y2="712.20" stroke="#222" stroke-width="1.1"/>
<text x="45.60" y="719.10" font-size="18" text-anchor="end" font-weight="normal" font-family="Liberation Serif, serif" fill="#0a0a0a" stroke="#0a0a0a" stroke-width="0.4" >0</text>
<line x1="48.80" y1="676.68" x2="54.80" y2="676.68" stroke="#222" stroke-width="1.1"/>
<text x="45.60" y="683.58" font-size="18" text-anchor="end" font-weight="normal" font-family="Liberation Serif, serif" fill="#0a0a0a" stroke="#0a0a0a" stroke-width="0.4" >20</text>
<line x1="48.80" y1="641.16" x2="54.80" y2="641.16" stroke="#222" stroke-width="1.1"/>
<text x="45.60" y="648.06" font-size="18" text-anchor="end" font-weight="normal" font-family="Liberation Serif, serif" fill="#0a0a0a" stroke="#0a0a0a" stroke-width="0.4" >40</text>
<line x1="48.80" y1="605.64" x2="54.80" y2="605.64" stroke="#222" stroke-width="1.1"/>
<text x="45.60" y="612.54" font-size="18" text-anchor="end" font-weight="normal" font-family="Liberation Serif, serif" fill="#0a0a0a" stroke="#0a0a0a" stroke-width="0.4" >60</text>
<line x1="48.80" y1="570.12" x2="54.80" y2="570.12" stroke="#222" stroke-width="1.1"/>
<text x="45.60" y="577.02" font-size="18" text-anchor="end" font-weight="normal" font-family="Liberation Serif, serif" fill="#0a0a0a" stroke="#0a0a0a" stroke-width="0.4" >80</text>
<line x1="48.80" y1="534.60" x2="54.80" y2="534.60" stroke="#222" stroke-width="1.1"/>
<text x="45.60" y="541.50" font-size="18" text-anchor="end" font-weight="normal" font-family="Liberation Serif, serif" fill="#0a0a0a" stroke="#0a0a0a" stroke-width="0.4" >100</text>
<line x1="51.80" y1="708.90" x2="51.80" y2="715.60" stroke="#222" stroke-width="1.1"/>
<line x1="153.00" y1="708.90" x2="153.00" y2="715.60" stroke="#222" stroke-width="1.1"/>
<line x1="253.20" y1="708.90" x2="253.20" y2="715.60" stroke="#222" stroke-width="1.1"/>
<line x1="353.60" y1="708.90" x2="353.60" y2="715.60" stroke="#222" stroke-width="1.1"/>
<line x1="454.30" y1="708.90" x2="454.30" y2="715.60" stroke="#222" stroke-width="1.1"/>
<text transform="translate(13.00,624.20) rotate(-90) scale(1,0.93)" font-size="14.05" text-anchor="middle" font-weight="bold" font-family="Liberation Serif, serif" fill="#0a0a0a" >% input cells bound</text>
<rect x="68.55" y="625.55" width="21.60" height="86.65" fill="#fff" stroke="#0a0a0a" stroke-width="1.1"/>
<line x1="79.35" y1="620.50" x2="79.35" y2="625.50" stroke="#0a0a0a" stroke-width="1.2"/>
<line x1="75.10" y1="620.50" x2="83.60" y2="620.50" stroke="#0a0a0a" stroke-width="1.44"/>
<rect x="91.25" y="618.05" width="21.60" height="94.15" fill="url(#hat)" stroke="#0a0a0a" stroke-width="1.1"/>
<line x1="102.05" y1="613.75" x2="102.05" y2="618.00" stroke="#0a0a0a" stroke-width="1.2"/>
<line x1="97.80" y1="613.75" x2="106.30" y2="613.75" stroke="#0a0a0a" stroke-width="1.44"/>
<rect x="113.40" y="565.75" width="23.00" height="146.45" fill="#0a0a0a"/>
<line x1="124.75" y1="559.50" x2="124.75" y2="566.25" stroke="#0a0a0a" stroke-width="1.2"/>
<line x1="120.50" y1="559.50" x2="129.00" y2="559.50" stroke="#0a0a0a" stroke-width="1.44"/>
<rect x="169.80" y="609.30" width="21.60" height="102.90" fill="#fff" stroke="#0a0a0a" stroke-width="1.1"/>
<line x1="180.60" y1="600.00" x2="180.60" y2="609.25" stroke="#0a0a0a" stroke-width="1.2"/>
<line x1="176.35" y1="600.00" x2="184.85" y2="600.00" stroke="#0a0a0a" stroke-width="1.44"/>
<rect x="192.50" y="601.30" width="21.60" height="110.90" fill="url(#hat)" stroke="#0a0a0a" stroke-width="1.1"/>
<line x1="203.30" y1="599.00" x2="203.30" y2="601.25" stroke="#0a0a0a" stroke-width="1.2"/>
<line x1="199.05" y1="599.00" x2="207.55" y2="599.00" stroke="#0a0a0a" stroke-width="1.44"/>
<rect x="214.65" y="641.25" width="23.00" height="70.95" fill="#0a0a0a"/>
<line x1="226.00" y1="636.25" x2="226.00" y2="641.75" stroke="#0a0a0a" stroke-width="1.2"/>
<line x1="221.75" y1="636.25" x2="230.25" y2="636.25" stroke="#0a0a0a" stroke-width="1.44"/>
<rect x="270.05" y="709.30" width="21.60" height="2.90" fill="#fff" stroke="#0a0a0a" stroke-width="1.1"/>
<rect x="292.75" y="706.80" width="21.60" height="5.40" fill="url(#hat)" stroke="#0a0a0a" stroke-width="1.1"/>
<rect x="314.90" y="627.50" width="23.00" height="84.70" fill="#0a0a0a"/>
<line x1="326.25" y1="620.50" x2="326.25" y2="628.00" stroke="#0a0a0a" stroke-width="1.2"/>
<line x1="322.00" y1="620.50" x2="330.50" y2="620.50" stroke="#0a0a0a" stroke-width="1.44"/>
<rect x="370.85" y="710.15" width="21.60" height="2.05" fill="#fff" stroke="#0a0a0a" stroke-width="1.1"/>
<line x1="381.65" y1="708.00" x2="381.65" y2="710.10" stroke="#0a0a0a" stroke-width="1.2"/>
<line x1="377.40" y1="708.00" x2="385.90" y2="708.00" stroke="#0a0a0a" stroke-width="1.44"/>
<rect x="393.55" y="706.25" width="21.60" height="5.95" fill="url(#hat)" stroke="#0a0a0a" stroke-width="1.1"/>
<rect x="415.70" y="705.00" width="23.00" height="7.20" fill="#0a0a0a"/>
<line x1="427.05" y1="702.00" x2="427.05" y2="705.50" stroke="#0a0a0a" stroke-width="1.2"/>
<line x1="422.80" y1="702.00" x2="431.30" y2="702.00" stroke="#0a0a0a" stroke-width="1.44"/>
<text x="100.00" y="739.50" font-size="17.2" text-anchor="middle" font-weight="normal" font-family="Liberation Serif, serif" fill="#0a0a0a" stroke="#0a0a0a" stroke-width="0.4" >VCAM</text>
<text x="203.20" y="739.50" font-size="17.6" text-anchor="middle" font-weight="normal" font-family="Liberation Serif, serif" fill="#0a0a0a" stroke="#0a0a0a" stroke-width="0.4" >MAdCAM</text>
<text x="404.30" y="739.20" font-size="17.6" text-anchor="middle" font-weight="normal" font-family="Liberation Serif, serif" fill="#0a0a0a" stroke="#0a0a0a" stroke-width="0.4" >NCAM</text>
<text x="307.60" y="739.30" font-size="17.6" text-anchor="middle" font-weight="normal" font-family="Liberation Serif, serif" fill="#0a0a0a" stroke="#0a0a0a" stroke-width="0.4" textLength="63" lengthAdjust="spacing">ICAM-4</text>
<rect x="343.10" y="536.90" width="25.20" height="24.70" fill="#fff" stroke="#0a0a0a" stroke-width="1.4"/>
<rect x="343.10" y="565.60" width="25.20" height="24.50" fill="url(#hat)" stroke="#0a0a0a" stroke-width="1.4"/>
<rect x="342.50" y="593.50" width="26.30" height="25.30" fill="#0a0a0a"/>
<text x="377.80" y="555.60" font-size="17.8" text-anchor="start" font-weight="normal" font-family="Liberation Serif, serif" fill="#0a0a0a" stroke="#0a0a0a" stroke-width="0.4" >JY</text>
<text x="377.80" y="585.00" font-size="18.25" text-anchor="start" font-weight="normal" font-family="Liberation Serif, serif" fill="#0a0a0a" stroke="#0a0a0a" stroke-width="0.4" >JY + PMA</text>
<text x="377.60" y="613.80" font-size="17.6" text-anchor="start" font-weight="normal" font-family="Liberation Serif, serif" fill="#0a0a0a" stroke="#0a0a0a" stroke-width="0.4" >HEL</text>
<line x1="51.10" y1="768.20" x2="51.10" y2="918.20" stroke="#222" stroke-width="1.1"/>
<line x1="51.10" y1="918.20" x2="518.50" y2="918.20" stroke="#222" stroke-width="1.1"/>
<line x1="48.30" y1="918.20" x2="53.30" y2="918.20" stroke="#222" stroke-width="1.1"/>
<text x="45.20" y="924.30" font-size="18" text-anchor="end" font-weight="normal" font-family="Liberation Serif, serif" fill="#0a0a0a" stroke="#0a0a0a" stroke-width="0.4" >0</text>
<line x1="48.30" y1="893.20" x2="53.30" y2="893.20" stroke="#222" stroke-width="1.1"/>
<text x="45.20" y="899.30" font-size="18" text-anchor="end" font-weight="normal" font-family="Liberation Serif, serif" fill="#0a0a0a" stroke="#0a0a0a" stroke-width="0.4" >20</text>
<line x1="48.30" y1="868.20" x2="53.30" y2="868.20" stroke="#222" stroke-width="1.1"/>
<text x="45.20" y="874.30" font-size="18" text-anchor="end" font-weight="normal" font-family="Liberation Serif, serif" fill="#0a0a0a" stroke="#0a0a0a" stroke-width="0.4" >40</text>
<line x1="48.30" y1="843.20" x2="53.30" y2="843.20" stroke="#222" stroke-width="1.1"/>
<text x="45.20" y="849.30" font-size="18" text-anchor="end" font-weight="normal" font-family="Liberation Serif, serif" fill="#0a0a0a" stroke="#0a0a0a" stroke-width="0.4" >60</text>
<line x1="48.30" y1="818.20" x2="53.30" y2="818.20" stroke="#222" stroke-width="1.1"/>
<text x="45.20" y="824.30" font-size="18" text-anchor="end" font-weight="normal" font-family="Liberation Serif, serif" fill="#0a0a0a" stroke="#0a0a0a" stroke-width="0.4" >80</text>
<line x1="48.30" y1="793.20" x2="53.30" y2="793.20" stroke="#222" stroke-width="1.1"/>
<text x="45.20" y="799.30" font-size="18" text-anchor="end" font-weight="normal" font-family="Liberation Serif, serif" fill="#0a0a0a" stroke="#0a0a0a" stroke-width="0.4" >100</text>
<line x1="48.30" y1="768.20" x2="53.30" y2="768.20" stroke="#222" stroke-width="1.1"/>
<text x="45.20" y="774.30" font-size="18" text-anchor="end" font-weight="normal" font-family="Liberation Serif, serif" fill="#0a0a0a" stroke="#0a0a0a" stroke-width="0.4" >120</text>
<line x1="51.10" y1="915.20" x2="51.10" y2="921.20" stroke="#222" stroke-width="1.1"/>
<line x1="82.22" y1="915.20" x2="82.22" y2="921.20" stroke="#222" stroke-width="1.1"/>
<line x1="113.34" y1="915.20" x2="113.34" y2="921.20" stroke="#222" stroke-width="1.1"/>
<line x1="144.46" y1="915.20" x2="144.46" y2="921.20" stroke="#222" stroke-width="1.1"/>
<line x1="175.58" y1="915.20" x2="175.58" y2="921.20" stroke="#222" stroke-width="1.1"/>
<line x1="206.70" y1="915.20" x2="206.70" y2="921.20" stroke="#222" stroke-width="1.1"/>
<line x1="237.82" y1="915.20" x2="237.82" y2="921.20" stroke="#222" stroke-width="1.1"/>
<line x1="268.94" y1="915.20" x2="268.94" y2="921.20" stroke="#222" stroke-width="1.1"/>
<line x1="300.06" y1="915.20" x2="300.06" y2="921.20" stroke="#222" stroke-width="1.1"/>
<line x1="331.18" y1="915.20" x2="331.18" y2="921.20" stroke="#222" stroke-width="1.1"/>
<line x1="362.30" y1="915.20" x2="362.30" y2="921.20" stroke="#222" stroke-width="1.1"/>
<line x1="393.42" y1="915.20" x2="393.42" y2="921.20" stroke="#222" stroke-width="1.1"/>
<line x1="424.54" y1="915.20" x2="424.54" y2="921.20" stroke="#222" stroke-width="1.1"/>
<line x1="455.66" y1="915.20" x2="455.66" y2="921.20" stroke="#222" stroke-width="1.1"/>
<line x1="486.78" y1="915.20" x2="486.78" y2="921.20" stroke="#222" stroke-width="1.1"/>
<line x1="517.90" y1="915.20" x2="517.90" y2="921.20" stroke="#222" stroke-width="1.1"/>
<text transform="translate(15.00,857.70) rotate(-90) scale(1,1.08)" font-size="13.75" text-anchor="middle" font-weight="bold" font-family="Liberation Serif, serif" fill="#0a0a0a" >% control cells bound</text>
<rect x="60.60" y="793.10" width="11.30" height="125.10" fill="#fff" stroke="#0a0a0a" stroke-width="1.2"/>
<line x1="66.25" y1="787.50" x2="66.25" y2="793.00" stroke="#0a0a0a" stroke-width="1.2"/>
<line x1="62.75" y1="787.50" x2="69.75" y2="787.50" stroke="#0a0a0a" stroke-width="1.44"/>
<rect x="90.50" y="871.25" width="14.00" height="46.95" fill="#0a0a0a"/>
<line x1="97.50" y1="864.50" x2="97.50" y2="871.75" stroke="#0a0a0a" stroke-width="1.2"/>
<line x1="94.00" y1="864.50" x2="101.00" y2="864.50" stroke="#0a0a0a" stroke-width="1.44"/>
<rect x="122.00" y="806.25" width="13.50" height="111.95" fill="#0a0a0a"/>
<line x1="128.75" y1="795.50" x2="128.75" y2="806.75" stroke="#0a0a0a" stroke-width="1.2"/>
<line x1="125.25" y1="795.50" x2="132.25" y2="795.50" stroke="#0a0a0a" stroke-width="1.44"/>
<rect x="153.25" y="802.50" width="13.15" height="115.70" fill="#0a0a0a"/>
<line x1="159.82" y1="798.75" x2="159.82" y2="803.00" stroke="#0a0a0a" stroke-width="1.2"/>
<line x1="156.32" y1="798.75" x2="163.32" y2="798.75" stroke="#0a0a0a" stroke-width="1.44"/>
<rect x="184.50" y="805.00" width="13.10" height="113.20" fill="#0a0a0a"/>
<line x1="191.05" y1="800.00" x2="191.05" y2="805.50" stroke="#0a0a0a" stroke-width="1.2"/>
<line x1="187.55" y1="800.00" x2="194.55" y2="800.00" stroke="#0a0a0a" stroke-width="1.44"/>
<rect x="215.00" y="790.50" width="13.75" height="127.70" fill="#0a0a0a"/>
<line x1="221.88" y1="789.80" x2="221.88" y2="791.00" stroke="#0a0a0a" stroke-width="1.2"/>
<line x1="218.38" y1="789.80" x2="225.38" y2="789.80" stroke="#0a0a0a" stroke-width="1.44"/>
<rect x="246.25" y="800.75" width="13.35" height="117.45" fill="#0a0a0a"/>
<line x1="252.93" y1="796.25" x2="252.93" y2="801.25" stroke="#0a0a0a" stroke-width="1.2"/>
<line x1="249.43" y1="796.25" x2="256.43" y2="796.25" stroke="#0a0a0a" stroke-width="1.44"/>
<rect x="277.00" y="795.00" width="13.50" height="123.20" fill="#0a0a0a"/>
<line x1="283.75" y1="782.00" x2="283.75" y2="795.50" stroke="#0a0a0a" stroke-width="1.2"/>
<line x1="280.25" y1="782.00" x2="287.25" y2="782.00" stroke="#0a0a0a" stroke-width="1.44"/>
<rect x="308.25" y="804.25" width="13.50" height="113.95" fill="#0a0a0a"/>
<line x1="315.00" y1="797.50" x2="315.00" y2="804.75" stroke="#0a0a0a" stroke-width="1.2"/>
<line x1="311.50" y1="797.50" x2="318.50" y2="797.50" stroke="#0a0a0a" stroke-width="1.44"/>
<rect x="339.50" y="797.00" width="13.75" height="121.20" fill="#0a0a0a"/>
<line x1="346.38" y1="792.00" x2="346.38" y2="797.50" stroke="#0a0a0a" stroke-width="1.2"/>
<line x1="342.88" y1="792.00" x2="349.88" y2="792.00" stroke="#0a0a0a" stroke-width="1.44"/>
<rect x="370.75" y="806.25" width="13.50" height="111.95" fill="#0a0a0a"/>
<line x1="377.50" y1="795.00" x2="377.50" y2="806.75" stroke="#0a0a0a" stroke-width="1.2"/>
<line x1="374.00" y1="795.00" x2="381.00" y2="795.00" stroke="#0a0a0a" stroke-width="1.44"/>
<rect x="401.50" y="887.40" width="13.50" height="30.80" fill="#0a0a0a"/>
<line x1="408.25" y1="882.00" x2="408.25" y2="887.90" stroke="#0a0a0a" stroke-width="1.2"/>
<line x1="404.75" y1="882.00" x2="411.75" y2="882.00" stroke="#0a0a0a" stroke-width="1.44"/>
<rect x="432.50" y="808.75" width="13.75" height="109.45" fill="#0a0a0a"/>
<line x1="439.38" y1="804.50" x2="439.38" y2="809.25" stroke="#0a0a0a" stroke-width="1.2"/>
<line x1="435.88" y1="804.50" x2="442.88" y2="804.50" stroke="#0a0a0a" stroke-width="1.44"/>
<rect x="463.75" y="857.75" width="14.25" height="60.45" fill="#0a0a0a"/>
<line x1="470.88" y1="852.00" x2="470.88" y2="858.25" stroke="#0a0a0a" stroke-width="1.2"/>
<line x1="467.38" y1="852.00" x2="474.38" y2="852.00" stroke="#0a0a0a" stroke-width="1.44"/>
<rect x="496.85" y="913.35" width="11.30" height="4.85" fill="#fff" stroke="#0a0a0a" stroke-width="1.2"/>
<text x="60.30" y="939.80" font-size="17" text-anchor="start" font-weight="normal" font-family="Liberation Serif, serif" fill="#0a0a0a" stroke="#0a0a0a" stroke-width="0.4" >C</text>
<text x="89.10" y="940.30" font-size="18" text-anchor="start" font-weight="normal" font-family="Liberation Serif, serif" fill="#0a0a0a" stroke="#0a0a0a" stroke-width="0.4" >β</text>
<text x="100.10" y="942.10" font-size="12.6" text-anchor="start" font-weight="normal" font-family="Liberation Serif, serif" fill="#0a0a0a" >1</text>
<text x="119.60" y="940.30" font-size="18" text-anchor="start" font-weight="normal" font-family="Liberation Serif, serif" fill="#0a0a0a" stroke="#0a0a0a" stroke-width="0.4" >β</text>
<text x="130.60" y="942.10" font-size="12.6" text-anchor="start" font-weight="normal" font-family="Liberation Serif, serif" fill="#0a0a0a" >2</text>
<text x="149.80" y="940.30" font-size="18" text-anchor="start" font-weight="normal" font-family="Liberation Serif, serif" fill="#0a0a0a" stroke="#0a0a0a" stroke-width="0.4" >β</text>
<text x="160.80" y="942.10" font-size="12.6" text-anchor="start" font-weight="normal" font-family="Liberation Serif, serif" fill="#0a0a0a" >3</text>
<text x="180.90" y="940.30" font-size="18" text-anchor="start" font-weight="normal" font-family="Liberation Serif, serif" fill="#0a0a0a" stroke="#0a0a0a" stroke-width="0.4" >β</text>
<text x="191.90" y="942.10" font-size="12.6" text-anchor="start" font-weight="normal" font-family="Liberation Serif, serif" fill="#0a0a0a" >4</text>
<text x="212.50" y="940.40" font-size="19.5" text-anchor="start" font-weight="normal" font-family="Liberation Serif, serif" fill="#0a0a0a" textLength="12.3" lengthAdjust="spacingAndGlyphs">α</text>
<text x="226.20" y="942.10" font-size="12.6" text-anchor="start" font-weight="normal" font-family="Liberation Serif, serif" fill="#0a0a0a" >1</text>
<text x="242.80" y="940.40" font-size="19.5" text-anchor="start" font-weight="normal" font-family="Liberation Serif, serif" fill="#0a0a0a" textLength="12.3" lengthAdjust="spacingAndGlyphs">α</text>
<text x="256.50" y="942.10" font-size="12.6" text-anchor="start" font-weight="normal" font-family="Liberation Serif, serif" fill="#0a0a0a" >2</text>
<text x="274.10" y="940.40" font-size="19.5" text-anchor="start" font-weight="normal" font-family="Liberation Serif, serif" fill="#0a0a0a" textLength="12.3" lengthAdjust="spacingAndGlyphs">α</text>
<text x="287.80" y="942.10" font-size="12.6" text-anchor="start" font-weight="normal" font-family="Liberation Serif, serif" fill="#0a0a0a" >3</text>
<text x="305.30" y="940.40" font-size="19.5" text-anchor="start" font-weight="normal" font-family="Liberation Serif, serif" fill="#0a0a0a" textLength="12.3" lengthAdjust="spacingAndGlyphs">α</text>
<text x="319.00" y="942.10" font-size="12.6" text-anchor="start" font-weight="normal" font-family="Liberation Serif, serif" fill="#0a0a0a" >4</text>
<text x="336.50" y="940.40" font-size="19.5" text-anchor="start" font-weight="normal" font-family="Liberation Serif, serif" fill="#0a0a0a" textLength="12.3" lengthAdjust="spacingAndGlyphs">α</text>
<text x="350.20" y="942.10" font-size="12.6" text-anchor="start" font-weight="normal" font-family="Liberation Serif, serif" fill="#0a0a0a" >5</text>
<text x="367.50" y="940.40" font-size="19.5" text-anchor="start" font-weight="normal" font-family="Liberation Serif, serif" fill="#0a0a0a" textLength="12.3" lengthAdjust="spacingAndGlyphs">α</text>
<text x="381.20" y="942.10" font-size="12.6" text-anchor="start" font-weight="normal" font-family="Liberation Serif, serif" fill="#0a0a0a" >6</text>
<text x="395.80" y="940.40" font-size="19.5" text-anchor="start" font-weight="normal" font-family="Liberation Serif, serif" fill="#0a0a0a" textLength="12.3" lengthAdjust="spacingAndGlyphs">α</text>
<text x="411.70" y="942.10" font-size="11" text-anchor="start" font-weight="normal" font-family="Liberation Serif, serif" fill="#0a0a0a" >v</text>
<g transform="translate(433.60,927.6) rotate(90)">
<text x="0.00" y="0.00" font-size="19" text-anchor="start" font-weight="normal" font-family="Liberation Serif, serif" fill="#0a0a0a" textLength="10.4" lengthAdjust="spacingAndGlyphs">α</text>
<text x="12.00" y="3.00" font-size="11.5" text-anchor="start" font-weight="normal" font-family="Liberation Serif, serif" fill="#0a0a0a" >v</text>
<text x="17.60" y="0.00" font-size="17.5" text-anchor="start" font-weight="normal" font-family="Liberation Serif, serif" fill="#0a0a0a" stroke="#0a0a0a" stroke-width="0.1" >β</text>
<text x="28.40" y="3.20" font-size="12" text-anchor="start" font-weight="normal" font-family="Liberation Serif, serif" fill="#0a0a0a" >3</text>
</g>
<g transform="translate(466.20,927.6) rotate(90)">
<text x="0.00" y="0.00" font-size="19" text-anchor="start" font-weight="normal" font-family="Liberation Serif, serif" fill="#0a0a0a" textLength="10.4" lengthAdjust="spacingAndGlyphs">α</text>
<text x="12.00" y="3.00" font-size="11.5" text-anchor="start" font-weight="normal" font-family="Liberation Serif, serif" fill="#0a0a0a" >v</text>
<text x="17.60" y="0.00" font-size="17.5" text-anchor="start" font-weight="normal" font-family="Liberation Serif, serif" fill="#0a0a0a" stroke="#0a0a0a" stroke-width="0.1" >β</text>
<text x="28.40" y="3.20" font-size="12" text-anchor="start" font-weight="normal" font-family="Liberation Serif, serif" fill="#0a0a0a" >5</text>
</g>
<text transform="translate(497.70,927.90) rotate(90) scale(1,1.08)" font-size="14.5" text-anchor="start" font-weight="normal" font-family="Liberation Serif, serif" fill="#0a0a0a" stroke="#0a0a0a" stroke-width="0.45" >NCAM</text>
</g>
</svg>
</body></html>
